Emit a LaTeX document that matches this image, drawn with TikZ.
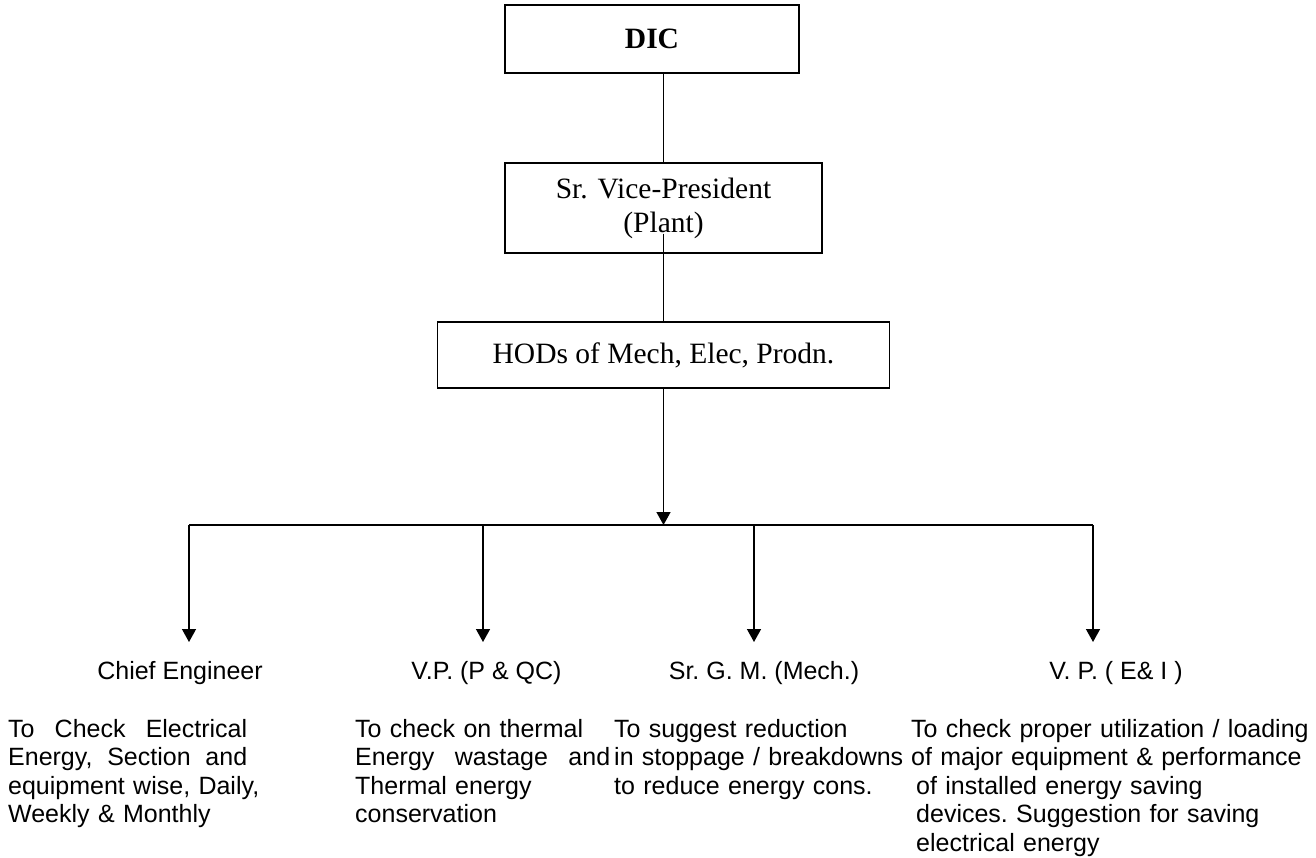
\documentclass[tikz,border=0pt]{standalone}
\usepackage{fontspec}
\setmainfont{Liberation Serif}
\setsansfont{Liberation Sans}
\usetikzlibrary{arrows.meta}
\newcommand{\boxfont}{\fontsize{29.5}{34}\selectfont}
\newcommand{\descfont}{\sffamily\fontsize{25}{28.5}\selectfont\frenchspacing}
\newcommand{\spread}[2]{\makebox[#1][l]{#2}}
\tikzset{%
    post/.style={draw, line width=1.4pt, align=center, font=\boxfont, inner sep=0pt},
    role/.style={font=\descfont, inner xsep=0pt, inner ysep=19pt, text height=18pt, text depth=5pt},
    duty/.style={font=\descfont, inner sep=0pt, anchor=north west, align=left, text height=18pt},
    link/.style={line width=1.4pt},
    down/.style={line width=1.4pt, -{Triangle[length=13pt,width=14pt]}}
}

\begin{document}
\begin{tikzpicture}[x=1pt,y=-1pt]
    \useasboundingbox (0,0) rectangle (1316,857);
    % top of the chain
    \node[post, minimum width=294pt, minimum height=68pt] (dic) at (652,39) {\textbf{DIC}};
    \node[post, minimum width=317pt, minimum height=90pt] (svp) at (663.5,208) {Sr. Vice-President\\(Plant)};
    \node[post, minimum width=452pt, minimum height=66pt] (hod) at (663.5,355) {HODs of Mech, Elec, Prodn.};
    \draw[link] (svp.north |- dic.south) -- (svp.north);
    \draw[link] ([yshift=20pt]svp.south) -- (hod.north);
    % distribution bar
    \coordinate (b1) at (189,525);
    \coordinate (b2) at (483,525);
    \coordinate (b3) at (754,525);
    \coordinate (b4) at (1093,525);
    \draw[down] (hod.south) -- (hod.south |- b1);
    \draw[link] (b1) -- (b4);
    % heads
    \node[role, anchor=north] (ce) at (180,642) {Chief Engineer};
    \node[role, anchor=north] (vpq) at (486.5,642) {V.P. (P \& QC)};
    \node[role, anchor=north] (sgm) at (764,642) {Sr. G. M. (Mech.)};
    \node[role, anchor=north] (vpe) at (1116,642) {V. P. ( E\& I )};
    \draw[down] (b1) -- (b1 |- ce.north);
    \draw[down] (b2) -- (b2 |- vpq.north);
    \draw[down] (b3) -- (b3 |- sgm.north);
    \draw[down] (b4) -- (b4 |- vpe.north);
    % duties
    \node[duty, text width=260pt] (d1) at (8,719) {\spread{239pt}{To\hfill Check\hfill Electrical}\\\spread{239pt}{Energy,\hfill Section\hfill and}\\equipment wise, Daily,\\Weekly \& Monthly};
    \node[duty, text width=262pt] (d2) at (355,719) {To check on thermal\\\spread{255pt}{Energy\hfill wastage\hfill and}\\Thermal energy\\conservation};
    \node[duty, text width=290pt] (d3) at (614,719) {To suggest reduction\\in stoppage / breakdowns\\to reduce energy cons.};
    \node[duty, text width=400pt] (d4) at (911,719) {To check proper utilization / loading\\of major equipment \& performance\\\hspace*{5pt}of installed energy saving\\\hspace*{5pt}devices. Suggestion for saving\\\hspace*{5pt}electrical energy};
\end{tikzpicture}
\end{document}
